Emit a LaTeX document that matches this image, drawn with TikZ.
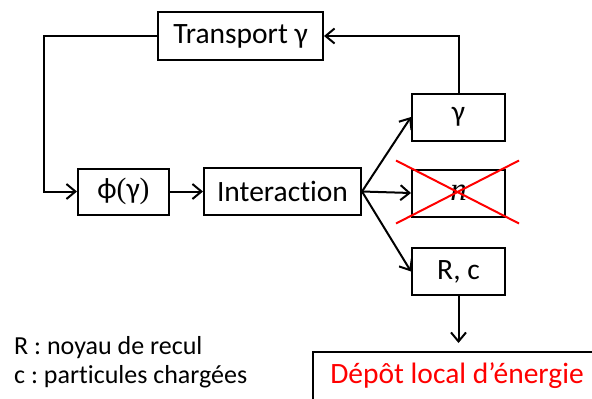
\documentclass[tikz,border=0pt]{standalone}
\usepackage{fontspec}
\setmainfont{Carlito}[Ligatures=NoCommon]
\newfontfamily\symbfont{Liberation Serif}
\usetikzlibrary{arrows.meta, positioning, calc}
\definecolor{rd}{HTML}{FF0000}
\tikzset{
  box/.style  = {rectangle, draw=black, line width=2pt, inner sep=0pt,
                 minimum width=93pt, minimum height=47pt,
                 font=\fontsize{29.5}{34}\selectfont},
  arr/.style  = {-{Straight Barb[length=9pt, width=15pt, line width=2pt]},
                 line width=2pt},
  cross/.style= {draw=rd, line width=2pt},
  note/.style = {align=left, inner sep=0pt, font=\fontsize{26}{29}\selectfont},
}
\begin{document}
\frenchspacing
\begin{tikzpicture}[x=1pt, y=-1pt]
  \useasboundingbox (0,0) rectangle (592,399);

  \node[box, minimum width=165pt, minimum height=48pt] (trans) at (240.5,36) {Transport γ};
  \node[box, minimum width=91pt, minimum height=46pt] (phi) at (123.5,191.5)
    {ϕ{\symbfont(}γ{\symbfont)}};
  \node[box, minimum width=157pt] (inter) at (282.5,191.5) {Interaction};
  \node[box] (gam)  at (458.5,117)   {γ};
  \node[box] (neut) at (458.5,193)   {{\symbfont\itshape\fontsize{33}{36}\selectfont n}};
  \node[box] (rc)   at (458.5,271.5) {R, c};
  \node[box, minimum width=288pt, minimum height=48pt, text=rd] (depot) at (457,376)
    {Dépôt local d’énergie};

  % feedback loop
  \coordinate (lft) at (44,36);
  \draw[arr] (trans.west) -- (lft) |- (phi.west);
  \draw[arr] (gam.north) |- (trans.east);

  \draw[arr] (phi)  -- (inter);
  \draw[arr] (inter.east) -- (gam.west);
  \draw[arr] (inter.east) -- (neut.west);
  \draw[arr] (inter.east) -- (rc.west);
  \draw[arr, shorten >=8pt] (rc.south) -- (rc.south |- depot.north);

  % crossed-out neutron channel
  \draw[cross] ($(neut.north west)+(-15,-8)$) -- ($(neut.south east)+(13,6)$);
  \draw[cross] ($(neut.south west)+(-15,6)$) -- ($(neut.north east)+(13,-8)$);

  \node[note, anchor=north west] (legend) at (14,336)
    {R : noyau de recul\\c : particules chargées};

\end{tikzpicture}
\end{document}
